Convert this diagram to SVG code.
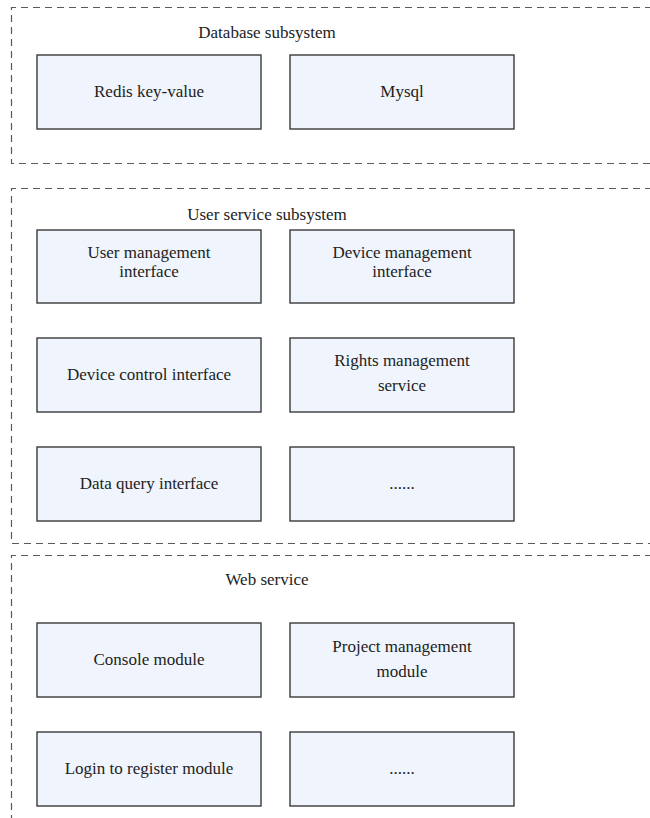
<svg xmlns="http://www.w3.org/2000/svg" width="650" height="818" viewBox="0 0 650 818">
  <style>
    .frame { fill: none; stroke: #5a5a5a; stroke-width: 1.2; stroke-dasharray: 7 5; }
    .box { fill: #f0f5fd; stroke: #3a3a3a; stroke-width: 1.4; }
    .label { font-family: "Liberation Serif", "Times New Roman", serif; font-size: 17px; fill: #222; text-anchor: middle; }
  </style>

  <!-- subsystem frames (open on the right) -->
  <g id="frames">
    <path class="frame" d="M652 7.5 H11.5 V163.5 H652"/>
    <path class="frame" d="M652 188.5 H11.5 V543.5 H652"/>
    <path class="frame" d="M652 555.5 H11.5 V820"/>
  </g>

  <g id="titles">
    <text class="label" x="267" y="38">Database subsystem</text>
    <text class="label" x="267" y="220">User service subsystem</text>
    <text class="label" x="267" y="585">Web service</text>
  </g>

  <!-- Database subsystem -->
  <g id="redis">
    <rect class="box" x="37" y="55" width="224" height="74"/>
    <text class="label" x="149" y="97">Redis key-value</text>
  </g>
  <g id="mysql">
    <rect class="box" x="290" y="55" width="224" height="74"/>
    <text class="label" x="402" y="97">Mysql</text>
  </g>

  <!-- User service subsystem -->
  <g id="user-mgmt">
    <rect class="box" x="37" y="230" width="224" height="73"/>
    <text class="label" x="149" y="258">User management</text>
    <text class="label" x="149" y="277">interface</text>
  </g>
  <g id="device-mgmt">
    <rect class="box" x="290" y="230" width="224" height="73"/>
    <text class="label" x="402" y="258">Device management</text>
    <text class="label" x="402" y="277">interface</text>
  </g>
  <g id="device-control">
    <rect class="box" x="37" y="338" width="224" height="74"/>
    <text class="label" x="149" y="380">Device control interface</text>
  </g>
  <g id="rights-mgmt">
    <rect class="box" x="290" y="338" width="224" height="74"/>
    <text class="label" x="402" y="366">Rights management</text>
    <text class="label" x="402" y="391">service</text>
  </g>
  <g id="data-query">
    <rect class="box" x="37" y="447" width="224" height="74"/>
    <text class="label" x="149" y="489">Data query interface</text>
  </g>
  <g id="user-more">
    <rect class="box" x="290" y="447" width="224" height="74"/>
    <text class="label" x="402" y="489">......</text>
  </g>

  <!-- Web service -->
  <g id="console">
    <rect class="box" x="37" y="623" width="224" height="74"/>
    <text class="label" x="149" y="665">Console module</text>
  </g>
  <g id="project-mgmt">
    <rect class="box" x="290" y="623" width="224" height="74"/>
    <text class="label" x="402" y="652">Project management</text>
    <text class="label" x="402" y="677">module</text>
  </g>
  <g id="login">
    <rect class="box" x="37" y="732" width="224" height="74"/>
    <text class="label" x="149" y="774">Login to register module</text>
  </g>
  <g id="web-more">
    <rect class="box" x="290" y="732" width="224" height="74"/>
    <text class="label" x="402" y="774">......</text>
  </g>

  <g id="connectors"/>
</svg>
